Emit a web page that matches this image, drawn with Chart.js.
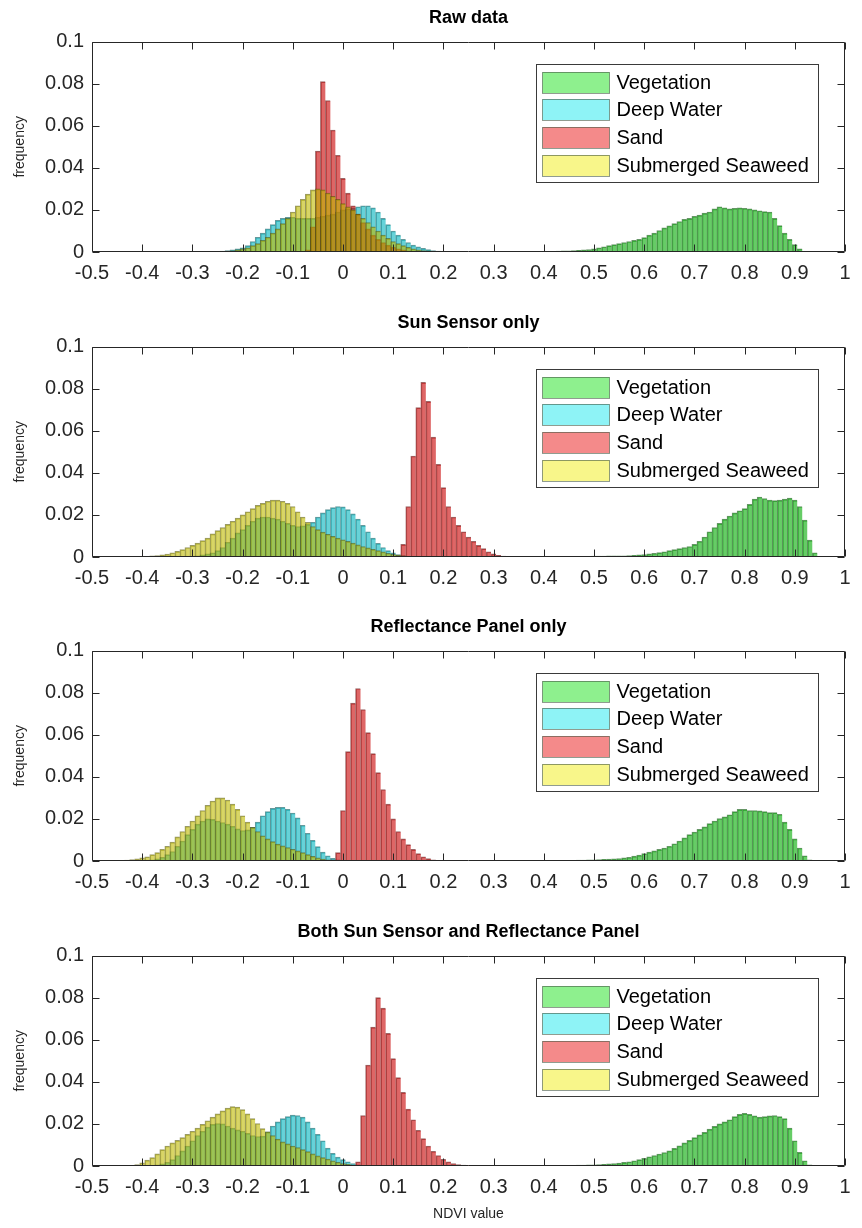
<!DOCTYPE html>
<html>
<head>
<meta charset="utf-8">
<title>NDVI histograms</title>
<script src="https://cdn.jsdelivr.net/npm/chart.js@4.4.1/dist/chart.umd.min.js"></script>
<style>
  body { margin: 0; background: #fff; }
  #wrap { position: relative; width: 862px; height: 1228px; }
  #wrap canvas { position: absolute; left: 0; }
</style>
</head>
<body>
<div id="wrap">
  <canvas id="c0" width="862" height="305" style="top:0px"></canvas>
  <canvas id="c1" width="862" height="304" style="top:305px"></canvas>
  <canvas id="c2" width="862" height="305" style="top:609px"></canvas>
  <canvas id="c3" width="862" height="314" style="top:914px"></canvas>
</div>
<script>
const categories = ["Vegetation", "Deep Water", "Sand", "Submerged Seaweed"];
const panelTitles = ["Raw data", "Sun Sensor only", "Reflectance Panel only", "Both Sun Sensor and Reflectance Panel"];
const xTicks = [-0.5, -0.4, -0.3, -0.2, -0.1, 0, 0.1, 0.2, 0.3, 0.4, 0.5, 0.6, 0.7, 0.8, 0.9, 1];
const yTicks = [0, 0.02, 0.04, 0.06, 0.08, 0.1];
const binWidth = 0.01;

// centre of the first bin of each series, in category order
const rawStart = [0.40, -0.25, -0.07, -0.24];
const rawVegetation = [0.0002, 0.0003, 0.0003, 0.0004, 0.0005, 0.0006, 0.0007, 0.0008, 0.001, 0.0012,
  0.0015, 0.002, 0.0025, 0.003, 0.0035, 0.004, 0.0045, 0.005, 0.0055, 0.006,
  0.0068, 0.008, 0.009, 0.0102, 0.0115, 0.0124, 0.0135, 0.0145, 0.0155, 0.016,
  0.017, 0.0175, 0.0185, 0.019, 0.0205, 0.0215, 0.021, 0.0205, 0.0208, 0.021,
  0.0208, 0.0205, 0.02, 0.0196, 0.0192, 0.019, 0.016, 0.0125, 0.009, 0.006,
  0.0035, 0.0015, 0.0003];
const rawDeepWater = [0.0002, 0.0004, 0.0007, 0.001, 0.0015, 0.002, 0.003, 0.005, 0.007, 0.009,
  0.011, 0.013, 0.015, 0.016, 0.0165, 0.0165, 0.016, 0.016, 0.016, 0.016,
  0.0165, 0.017, 0.0175, 0.018, 0.019, 0.02, 0.0205, 0.021, 0.0215, 0.022,
  0.022, 0.021, 0.019, 0.016, 0.013, 0.01, 0.008, 0.006, 0.0045, 0.0033,
  0.0024, 0.0017, 0.0011, 0.0007, 0.0004, 0.0002];
const rawSand = [0.001, 0.012, 0.048, 0.081, 0.072, 0.058, 0.046, 0.035, 0.028, 0.022,
  0.018, 0.014, 0.011, 0.008, 0.006, 0.0045, 0.0033, 0.0023, 0.0015, 0.001,
  0.0006, 0.0003];
const rawSeaweed = [0.0002, 0.0004, 0.0006, 0.001, 0.0015, 0.002, 0.003, 0.004, 0.0055, 0.007,
  0.009, 0.011, 0.0135, 0.016, 0.019, 0.022, 0.025, 0.0275, 0.0295, 0.03,
  0.0295, 0.028, 0.0265, 0.025, 0.023, 0.0215, 0.02, 0.018, 0.016, 0.014,
  0.012, 0.01, 0.008, 0.0065, 0.005, 0.004, 0.003, 0.0022, 0.0015, 0.001,
  0.0007, 0.0005, 0.0003];

const sunStart = [0.45, -0.30, 0.11, -0.40];
const sunVegetation = [0.0002, 0.0002, 0.0003, 0.0003, 0.0003, 0.0004, 0.0004, 0.0004, 0.0005, 0.0005,
  0.0006, 0.0006, 0.0007, 0.0008, 0.001, 0.0012, 0.0015, 0.0018, 0.0021, 0.0025,
  0.003, 0.0035, 0.004, 0.0045, 0.005, 0.006, 0.0075, 0.0095, 0.012, 0.014,
  0.016, 0.018, 0.0195, 0.021, 0.022, 0.023, 0.025, 0.0275, 0.0285, 0.0278,
  0.027, 0.0268, 0.027, 0.0275, 0.028, 0.027, 0.024, 0.0175, 0.008, 0.002,
  0.0003];
const sunDeepWater = [0.0003, 0.0006, 0.001, 0.0015, 0.002, 0.003, 0.0045, 0.007, 0.009, 0.0115,
  0.013, 0.015, 0.017, 0.0185, 0.019, 0.019, 0.0185, 0.018, 0.017, 0.016,
  0.015, 0.0145, 0.0148, 0.0155, 0.0165, 0.019, 0.021, 0.0225, 0.0235, 0.024,
  0.0238, 0.0225, 0.0205, 0.018, 0.015, 0.012, 0.009, 0.0065, 0.0045, 0.003,
  0.002, 0.0012, 0.0007, 0.0003];
const sunSand = [0.0005, 0.006, 0.024, 0.048, 0.071, 0.083, 0.074, 0.057, 0.044, 0.033,
  0.024, 0.019, 0.015, 0.012, 0.0095, 0.0075, 0.0055, 0.004, 0.0025, 0.0015,
  0.0008, 0.0004, 0.0002];
const sunSeaweed = [0.0002, 0.0003, 0.0005, 0.0007, 0.001, 0.0014, 0.002, 0.0027, 0.0035, 0.0045,
  0.0055, 0.0066, 0.0078, 0.009, 0.011, 0.0125, 0.014, 0.0155, 0.017, 0.0185,
  0.02, 0.0215, 0.023, 0.0245, 0.0255, 0.0265, 0.027, 0.027, 0.0265, 0.0255,
  0.024, 0.0215, 0.019, 0.0165, 0.0145, 0.013, 0.0118, 0.0108, 0.0098, 0.009,
  0.0082, 0.0074, 0.0066, 0.0058, 0.005, 0.0043, 0.0036, 0.003, 0.0024, 0.0018,
  0.0013, 0.0009, 0.0006, 0.0003];

const panelStart = [0.45, -0.40, -0.02, -0.44];
const panelVegetation = [0.0003, 0.0003, 0.0004, 0.0004, 0.0005, 0.0006, 0.0007, 0.0008, 0.0009, 0.001,
  0.0012, 0.0015, 0.0018, 0.0023, 0.0028, 0.0035, 0.0042, 0.0048, 0.0055, 0.0062,
  0.007, 0.0082, 0.0095, 0.011, 0.0125, 0.0138, 0.015, 0.0162, 0.0178, 0.019,
  0.0202, 0.021, 0.022, 0.0235, 0.0245, 0.0245, 0.024, 0.024, 0.0238, 0.0235,
  0.023, 0.023, 0.0222, 0.0185, 0.015, 0.0105, 0.0062, 0.0025, 0.0005];
const panelDeepWater = [0.0003, 0.0004, 0.0006, 0.001, 0.0018, 0.003, 0.0045, 0.007, 0.0095, 0.0125,
  0.015, 0.0175, 0.019, 0.02, 0.0198, 0.019, 0.0183, 0.0175, 0.0165, 0.0153,
  0.0145, 0.0148, 0.016, 0.0185, 0.0215, 0.0235, 0.025, 0.0255, 0.0255, 0.0245,
  0.0228, 0.0205, 0.017, 0.0132, 0.0098, 0.0068, 0.0042, 0.0025, 0.0013, 0.0006,
  0.0003];
const panelSand = [0.0005, 0.004, 0.024, 0.052, 0.075, 0.082, 0.072, 0.061, 0.051, 0.042,
  0.034, 0.027, 0.02, 0.014, 0.0105, 0.0078, 0.0055, 0.0035, 0.002, 0.0011,
  0.0006, 0.0003];
const panelSeaweed = [0.0002, 0.0004, 0.0007, 0.001, 0.0015, 0.002, 0.003, 0.004, 0.0055, 0.007,
  0.009, 0.0115, 0.014, 0.0165, 0.019, 0.0215, 0.024, 0.0265, 0.0285, 0.03,
  0.03, 0.029, 0.027, 0.0245, 0.0215, 0.0185, 0.016, 0.014, 0.012, 0.0105,
  0.0092, 0.008, 0.0072, 0.0064, 0.0056, 0.0048, 0.004, 0.003, 0.0022, 0.0015,
  0.0009, 0.0005, 0.0002];

const bothStart = [0.45, -0.38, 0.03, -0.42];
const bothVegetation = [0.0003, 0.0003, 0.0004, 0.0004, 0.0005, 0.0006, 0.0007, 0.0008, 0.001, 0.0012,
  0.0014, 0.0017, 0.002, 0.0025, 0.003, 0.0037, 0.0044, 0.005, 0.0057, 0.0064,
  0.0072, 0.0084, 0.0096, 0.011, 0.0122, 0.0135, 0.0148, 0.016, 0.0175, 0.0188,
  0.02, 0.021, 0.022, 0.0235, 0.0245, 0.025, 0.0245, 0.0238, 0.0232, 0.0235,
  0.0238, 0.024, 0.0235, 0.0225, 0.018, 0.012, 0.0065, 0.0025, 0.0005];
const bothDeepWater = [0.0003, 0.0006, 0.001, 0.0018, 0.003, 0.005, 0.0072, 0.0095, 0.012, 0.0145,
  0.0165, 0.0185, 0.0198, 0.0202, 0.02, 0.019, 0.018, 0.0172, 0.0165, 0.0155,
  0.0145, 0.014, 0.0142, 0.0162, 0.019, 0.021, 0.0225, 0.0235, 0.0242, 0.024,
  0.0232, 0.021, 0.018, 0.015, 0.012, 0.0085, 0.006, 0.0042, 0.003, 0.002,
  0.0012, 0.0006, 0.0003];
const bothSand = [0.002, 0.024, 0.048, 0.066, 0.08, 0.075, 0.063, 0.051, 0.042, 0.035,
  0.027, 0.022, 0.017, 0.013, 0.0095, 0.007, 0.005, 0.0032, 0.002, 0.0012,
  0.0007, 0.0004, 0.0002];
const bothSeaweed = [0.0003, 0.0007, 0.0015, 0.0028, 0.004, 0.0058, 0.0078, 0.0095, 0.011, 0.0122,
  0.0135, 0.015, 0.0165, 0.018, 0.0198, 0.0215, 0.0232, 0.0248, 0.0262, 0.0275,
  0.0282, 0.028, 0.0268, 0.0248, 0.0225, 0.0202, 0.0178, 0.0162, 0.0145, 0.0128,
  0.0115, 0.0105, 0.0095, 0.0088, 0.0078, 0.0068, 0.0058, 0.0048, 0.004, 0.0033,
  0.0025, 0.0018, 0.0012, 0.0008, 0.0004];

const faceColors = ["rgba(0,170,0,0.6)", "rgba(0,180,190,0.6)", "rgba(200,0,0,0.6)", "rgba(190,185,0,0.6)"];
const edgeColors = ["rgba(0,80,0,0.6)", "rgba(0,85,90,0.6)", "rgba(90,0,0,0.6)", "rgba(85,85,0,0.6)"];
const swatchColors = ["#8ef08e", "#8ef3f6", "#f48a8a", "#f8f68a"];

const panels = [
  { starts: rawStart, series: [rawVegetation, rawDeepWater, rawSand, rawSeaweed] },
  { starts: sunStart, series: [sunVegetation, sunDeepWater, sunSand, sunSeaweed] },
  { starts: panelStart, series: [panelVegetation, panelDeepWater, panelSand, panelSeaweed] },
  { starts: bothStart, series: [bothVegetation, bothDeepWater, bothSand, bothSeaweed] },
];

Chart.defaults.font.family = "'Liberation Sans', Arial, sans-serif";
Chart.defaults.color = "#262626";

function toPoints(start, freq) {
  return freq.map((f, i) => ({ x: Math.round((start + i * binWidth) * 1000) / 1000, y: f }));
}

// MATLAB-like box with inward ticks, and the legend inside the axes
const matlabAxes = {
  id: "matlabAxes",
  afterDatasetsDraw(chart) {
    const { ctx, chartArea: a } = chart;
    const xs = chart.scales.x, ys = chart.scales.y;
    const L = Math.round(a.left) + 0.5, R = Math.round(a.right) - 0.5;
    const T = Math.round(a.top) + 0.5, B = Math.round(a.bottom) - 0.5;
    const tl = 7;
    ctx.save();
    ctx.strokeStyle = "#262626";
    ctx.lineWidth = 1;
    ctx.beginPath();
    ctx.rect(L, T, R - L, B - T);
    xTicks.forEach((v) => {
      const px = Math.round(xs.getPixelForValue(v)) + 0.5;
      ctx.moveTo(px, B); ctx.lineTo(px, B - tl);
      ctx.moveTo(px, T); ctx.lineTo(px, T + tl);
    });
    yTicks.forEach((v) => {
      const py = Math.round(ys.getPixelForValue(v)) + 0.5;
      ctx.moveTo(L, py); ctx.lineTo(L + tl, py);
      ctx.moveTo(R, py); ctx.lineTo(R - tl, py);
    });
    ctx.stroke();

    // legend
    const boxW = 282, boxH = 118;
    const bx = Math.round(a.right - 27 - boxW) + 0.5, by = Math.round(a.top + 22) + 0.5;
    ctx.fillStyle = "#fff";
    ctx.fillRect(bx, by, boxW, boxH);
    ctx.strokeStyle = "#3a3a3a";
    ctx.strokeRect(bx, by, boxW, boxH);
    ctx.font = "20px 'Liberation Sans', Arial, sans-serif";
    ctx.textBaseline = "middle";
    chart.data.datasets.forEach((ds, i) => {
      const sy = Math.round(by + 7 + i * 27.7);
      ctx.fillStyle = swatchColors[i];
      ctx.fillRect(bx + 6, sy, 67, 21);
      ctx.strokeStyle = "rgba(70,90,70,0.6)";
      ctx.strokeRect(bx + 6, sy + 0.5, 67, 21);
      ctx.fillStyle = "#000";
      ctx.fillText(ds.label, bx + 80, sy + 11);
    });
    ctx.restore();
  }
};

panels.forEach((p, k) => {
  const canvas = document.getElementById("c" + k);
  const last = k === panels.length - 1;
  const xAxisHeight = canvas.height - 42 - 210;
  new Chart(canvas, {
    type: "bar",
    data: {
      datasets: p.series.map((freq, i) => ({
        label: categories[i],
        data: toPoints(p.starts[i], freq),
        backgroundColor: faceColors[i],
        borderColor: edgeColors[i],
        borderWidth: { left: 1, top: 1, right: 0, bottom: 0 },
        borderSkipped: false,
        grouped: false,
        barPercentage: 1,
        categoryPercentage: 1,
        order: categories.length - 1 - i,
      })),
    },
    options: {
      responsive: false,
      animation: false,
      events: [],
      layout: { padding: { left: 0, right: 17, top: 0, bottom: 0 } },
      plugins: {
        legend: { display: false },
        tooltip: { enabled: false },
        title: {
          display: true,
          text: panelTitles[k],
          fullSize: false,
          color: "#000",
          font: { size: 18, weight: "bold" },
          padding: { top: 7, bottom: 13 },
        },
      },
      scales: {
        x: {
          type: "linear",
          min: -0.5,
          max: 1,
          offset: false,
          grid: { display: false, drawTicks: false },
          border: { display: false },
          afterBuildTicks: (s) => { s.ticks = xTicks.map((v) => ({ value: v })); },
          afterFit: (s) => { s.height = xAxisHeight; },
          ticks: {
            autoSkip: false,
            maxRotation: 0,
            padding: 9,
            color: "#262626",
            font: { size: 20 },
            callback: (v) => String(v),
          },
          title: {
            display: last,
            text: "NDVI value",
            color: "#262626",
            font: { size: 14 },
            padding: { top: 0, bottom: 5 },
          },
        },
        y: {
          min: 0,
          max: 0.1,
          grid: { display: false, drawTicks: false },
          border: { display: false },
          afterBuildTicks: (s) => { s.ticks = yTicks.map((v) => ({ value: v })); },
          afterFit: (s) => { s.width = 92; },
          ticks: {
            padding: 8,
            color: "#262626",
            font: { size: 20 },
            callback: (v) => String(v),
          },
          title: {
            display: true,
            text: "frequency",
            color: "#262626",
            font: { size: 14 },
            padding: { top: 12, bottom: 0 },
          },
        },
      },
    },
    plugins: [matlabAxes],
  });
});
</script>
</body>
</html>
